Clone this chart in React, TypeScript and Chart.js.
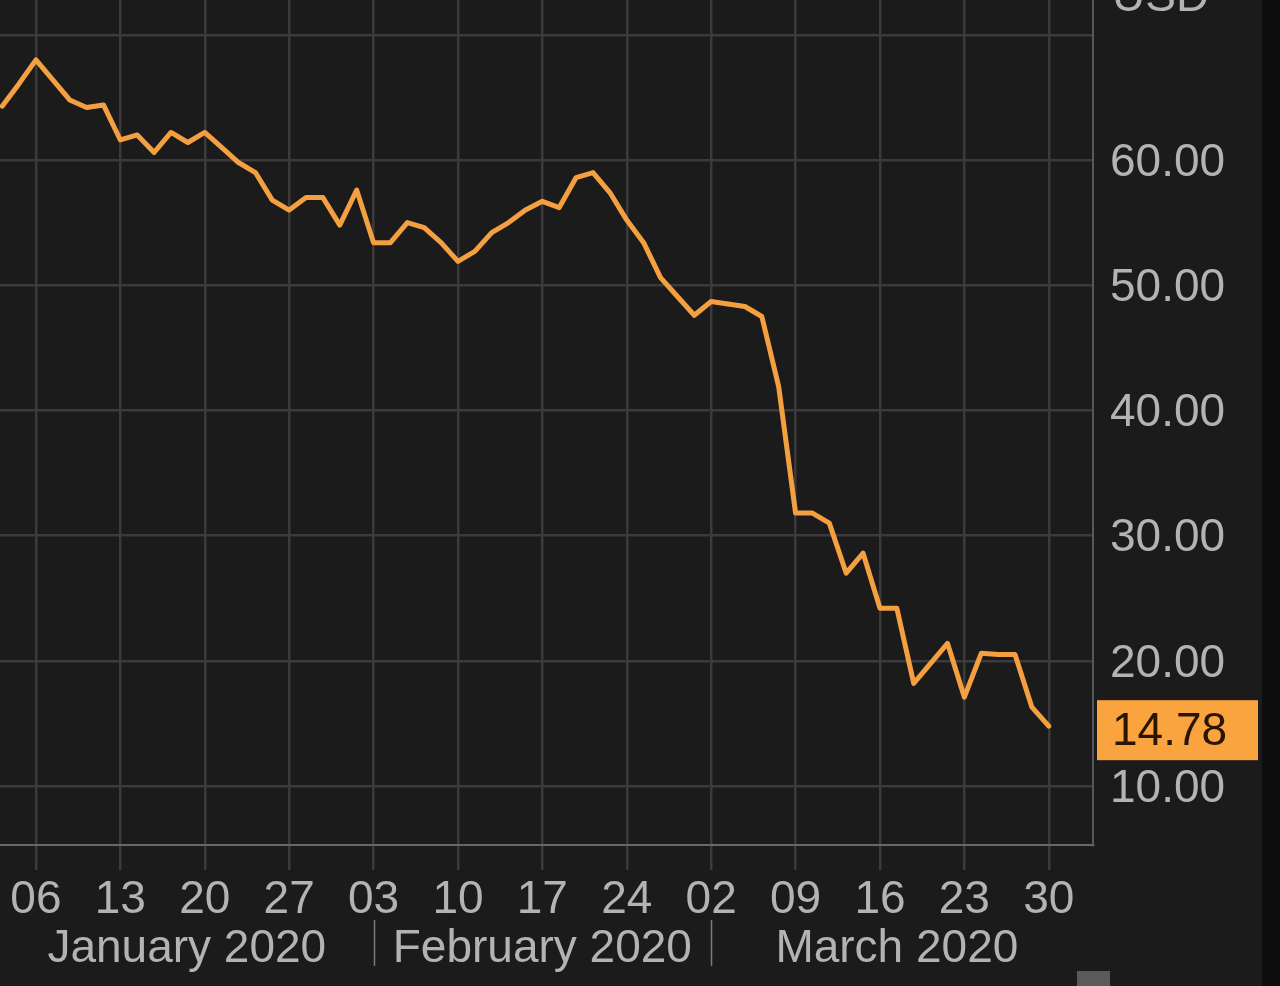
import React, { useEffect, useRef } from 'react';
import { Chart, registerables } from 'chart.js';

Chart.register(...registerables);

// Trading days (every weekday) shown on the chart
const tradingDays = [
  '2020-01-02', '2020-01-03',
  '2020-01-06', '2020-01-07', '2020-01-08', '2020-01-09', '2020-01-10',
  '2020-01-13', '2020-01-14', '2020-01-15', '2020-01-16', '2020-01-17',
  '2020-01-20', '2020-01-21', '2020-01-22', '2020-01-23', '2020-01-24',
  '2020-01-27', '2020-01-28', '2020-01-29', '2020-01-30', '2020-01-31',
  '2020-02-03', '2020-02-04', '2020-02-05', '2020-02-06', '2020-02-07',
  '2020-02-10', '2020-02-11', '2020-02-12', '2020-02-13', '2020-02-14',
  '2020-02-17', '2020-02-18', '2020-02-19', '2020-02-20', '2020-02-21',
  '2020-02-24', '2020-02-25', '2020-02-26', '2020-02-27', '2020-02-28',
  '2020-03-02', '2020-03-03', '2020-03-04', '2020-03-05', '2020-03-06',
  '2020-03-09', '2020-03-10', '2020-03-11', '2020-03-12', '2020-03-13',
  '2020-03-16', '2020-03-17', '2020-03-18', '2020-03-19', '2020-03-20',
  '2020-03-23', '2020-03-24', '2020-03-25', '2020-03-26', '2020-03-27',
  '2020-03-30',
];

// Price in USD for each trading day
const prices = [
  64.3, 66.1,
  68.0, 66.4, 64.8, 64.2, 64.4,
  61.6, 62.0, 60.6, 62.2, 61.4,
  62.2, 61.0, 59.8, 59.0, 56.8,
  56.0, 57.0, 57.0, 54.8, 57.6,
  53.4, 53.4, 55.0, 54.6, 53.4,
  51.9, 52.7, 54.2, 55.0, 56.0,
  56.7, 56.2, 58.6, 59.0, 57.4,
  55.2, 53.4, 50.6, 49.1, 47.6,
  48.7, 48.5, 48.3, 47.5, 41.9,
  31.8, 31.8, 31.0, 27.0, 28.6,
  24.2, 24.2, 18.2, 19.8, 21.4,
  17.1, 20.6, 20.5, 20.5, 16.3,
  14.78,
];

// Weekly (Monday) tick positions (index into tradingDays) and labels
const weekTickIndex = [2, 7, 12, 17, 22, 27, 32, 37, 42, 47, 52, 57, 62];
const weekTickLabels = ['06', '13', '20', '27', '03', '10', '17', '24', '02', '09', '16', '23', '30'];

// Month bands: first weekday index of each month (Jan 1 = -1, Apr 1 = 64)
const monthLabels = ['January 2020', 'February 2020', 'March 2020'];
const monthStartIndex = [-1, 22, 42, 64];

const yTicks = [10, 20, 30, 40, 50, 60, 70];
const unitLabel = 'USD';
const lastValueLabel = '14.78';

const FONT_FAMILY = '"Liberation Sans", Arial, Helvetica, sans-serif';
const LABEL_COLOR = '#b3b3b3';
const LINE_COLOR = '#f4a041';
const BOX_COLOR = '#f9a43e';

const decorPlugin = {
  id: 'decor',
  beforeDraw(chart: any) {
    const { ctx, width, height } = chart;
    ctx.save();
    ctx.fillStyle = '#1b1b1b';
    ctx.fillRect(0, 0, width, height);
    ctx.fillStyle = '#0d0d0d';
    ctx.fillRect(1262, 0, width - 1262, height);
    ctx.restore();
  },
  afterDraw(chart: any) {
    const { ctx, chartArea } = chart;
    const xs = chart.scales.x;
    const ys = chart.scales.y;
    ctx.save();

    // month labels + separators
    const bounds = monthStartIndex.map((i) =>
      Math.min(Math.max(xs.getPixelForValue(i), chartArea.left), chartArea.right)
    );
    ctx.font = `46px ${FONT_FAMILY}`;
    ctx.fillStyle = LABEL_COLOR;
    ctx.textAlign = 'center';
    ctx.textBaseline = 'alphabetic';
    for (let m = 0; m < monthLabels.length; m++) {
      const cx = (bounds[m] + bounds[m + 1]) / 2;
      ctx.fillText(monthLabels[m], cx, 962);
    }
    ctx.strokeStyle = '#7a7a7a';
    ctx.lineWidth = 1.5;
    for (let m = 1; m < monthStartIndex.length - 1; m++) {
      const px = Math.round(xs.getPixelForValue(monthStartIndex[m])) + 0.5;
      ctx.beginPath();
      ctx.moveTo(px, 920);
      ctx.lineTo(px, 966);
      ctx.stroke();
    }

    // unit label (partly cut off at top)
    ctx.textAlign = 'left';
    ctx.fillText(unitLabel, 1112, 11);

    // last value box
    const lastY = ys.getPixelForValue(prices[prices.length - 1]);
    const boxTop = lastY - 26;
    ctx.fillStyle = BOX_COLOR;
    ctx.fillRect(chartArea.right + 4, boxTop, 161, 60);
    ctx.fillStyle = '#2a1500';
    ctx.textBaseline = 'middle';
    ctx.fillText(lastValueLabel, 1112, boxTop + 32);

    // small scroll handle bottom-right
    ctx.fillStyle = '#5a5a5a';
    ctx.fillRect(1077, 971, 33, 15);
    ctx.restore();
  },
};

export default function App() {
  const canvasRef = useRef<HTMLCanvasElement | null>(null);

  useEffect(() => {
    if (!canvasRef.current) return;
    const font = { family: FONT_FAMILY, size: 46 };
    const chart = new Chart(canvasRef.current, {
      type: 'line',
      data: {
        datasets: [
          {
            label: 'Price (USD)',
            data: prices.map((p, i) => ({ x: i, y: p, date: tradingDays[i] })) as any,
            borderColor: LINE_COLOR,
            borderWidth: 5,
            pointRadius: 0,
            tension: 0,
            borderJoinStyle: 'round',
            borderCapStyle: 'round',
            fill: false,
          },
        ],
      },
      options: {
        responsive: false,
        animation: false,
        devicePixelRatio: 1,
        layout: { padding: 0 },
        plugins: {
          legend: { display: false },
          tooltip: { enabled: false },
        },
        scales: {
          x: {
            type: 'linear',
            min: -0.13,
            max: 64.62,
            afterBuildTicks: (s: any) => {
              s.ticks = weekTickIndex.map((v) => ({ value: v }));
            },
            afterFit: (s: any) => {
              s.height = 141;
              s.paddingLeft = 0;
              s.paddingRight = 0;
            },
            ticks: {
              autoSkip: false,
              maxRotation: 0,
              minRotation: 0,
              padding: 3,
              color: LABEL_COLOR,
              font,
              callback: (v: any) => {
                const k = weekTickIndex.indexOf(Number(v));
                return k >= 0 ? weekTickLabels[k] : '';
              },
            },
            grid: { color: '#3b3b3b', lineWidth: 2.5, tickLength: 25, drawTicks: true },
            border: { display: true, color: '#686868', width: 2 },
          },
          y: {
            position: 'right',
            min: 5.29,
            max: 72.78,
            afterBuildTicks: (s: any) => {
              s.ticks = yTicks.map((v) => ({ value: v }));
            },
            afterFit: (s: any) => {
              s.width = 187;
              s.paddingTop = 0;
              s.paddingBottom = 0;
            },
            ticks: {
              padding: 17,
              labelOffset: 3,
              color: LABEL_COLOR,
              font,
              callback: (v: any) => (Number(v) === 70 ? '' : Number(v).toFixed(2)),
            },
            grid: { color: '#3b3b3b', lineWidth: 2.5, drawTicks: false },
            border: { display: true, color: '#595959', width: 2 },
          },
        },
      },
      plugins: [decorPlugin],
    });
    return () => chart.destroy();
  }, []);

  return (
    <div
      style={{
        position: 'fixed',
        left: 0,
        top: 0,
        width: 1280,
        height: 986,
        background: '#1b1b1b',
        overflow: 'hidden',
      }}
    >
      <canvas ref={canvasRef} width={1280} height={986} style={{ display: 'block' }} />
    </div>
  );
}
